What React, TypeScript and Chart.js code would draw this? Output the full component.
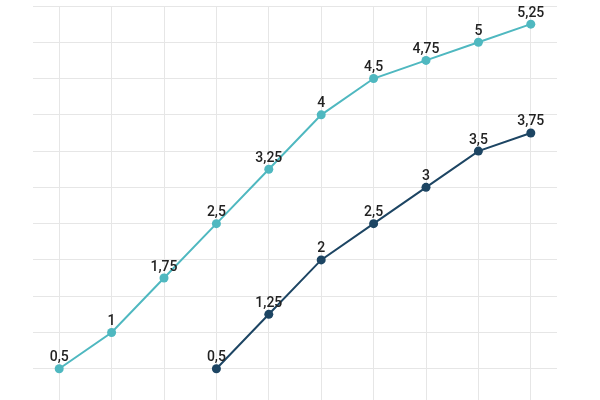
import React, { useEffect, useRef } from "react";
import { Chart, registerables } from "chart.js";

Chart.register(...registerables);

const categories = ["1", "2", "3", "4", "5", "6", "7", "8", "9", "10"];
const tealValues = [0.5, 1, 1.75, 2.5, 3.25, 4, 4.5, 4.75, 5, 5.25];
const navyValues = [null, null, null, 0.5, 1.25, 2, 2.5, 3, 3.5, 3.75];

const TEAL = "#4fb8c0";
const NAVY = "#1d4563";

// draws the value above each point, with a decimal comma
const pointLabels = {
  id: "pointLabels",
  afterDatasetsDraw(chart: Chart) {
    const ctx = chart.ctx;
    ctx.save();
    ctx.font = "500 14px Roboto";
    ctx.fillStyle = "#222222";
    ctx.textAlign = "center";
    ctx.textBaseline = "bottom";
    chart.data.datasets.forEach((ds, i) => {
      const meta = chart.getDatasetMeta(i);
      meta.data.forEach((pt, j) => {
        const v = ds.data[j] as number | null;
        if (v === null || v === undefined) return;
        ctx.fillText(String(v).replace(".", ","), pt.x, pt.y - 4);
      });
    });
    ctx.restore();
  },
};

const LineChart: React.FC = () => {
  const canvasRef = useRef<HTMLCanvasElement | null>(null);
  const chartRef = useRef<Chart | null>(null);

  useEffect(() => {
    if (!canvasRef.current) return;
    if (chartRef.current) chartRef.current.destroy();

    chartRef.current = new Chart(canvasRef.current, {
      type: "line",
      data: {
        labels: categories,
        datasets: [
          {
            data: tealValues,
            borderColor: TEAL,
            backgroundColor: TEAL,
            borderWidth: 2,
            pointRadius: 4.5,
            pointBorderWidth: 0,
            tension: 0,
          },
          {
            data: navyValues,
            borderColor: NAVY,
            backgroundColor: NAVY,
            borderWidth: 2,
            pointRadius: 4.5,
            pointBorderWidth: 0,
            tension: 0,
          },
        ],
      },
      options: {
        animation: false,
        responsive: true,
        maintainAspectRatio: false,
        layout: { padding: { top: 6, left: 33, right: 43, bottom: 5 } },
        plugins: {
          legend: { display: false },
          tooltip: { enabled: false },
        },
        scales: {
          x: {
            offset: true,
            grid: { offset: false, color: "#e6e6e6", drawTicks: false },
            border: { display: false },
            ticks: { display: false },
          },
          y: {
            min: 0,
            max: 5.5,
            grid: { color: "#e6e6e6", drawTicks: false },
            border: { display: false },
            ticks: { display: false, stepSize: 0.5 },
          },
        },
      },
      plugins: [pointLabels],
    });

    return () => {
      if (chartRef.current) {
        chartRef.current.destroy();
        chartRef.current = null;
      }
    };
  }, []);

  return (
    <div style={{ position: "absolute", top: 0, left: 0, width: 600, height: 400, overflow: "hidden", background: "#fff" }}>
      <div style={{ position: "relative", width: 600, height: 410 }}>
        <canvas ref={canvasRef}></canvas>
      </div>
    </div>
  );
};

export default function App() {
  return <LineChart />;
}
